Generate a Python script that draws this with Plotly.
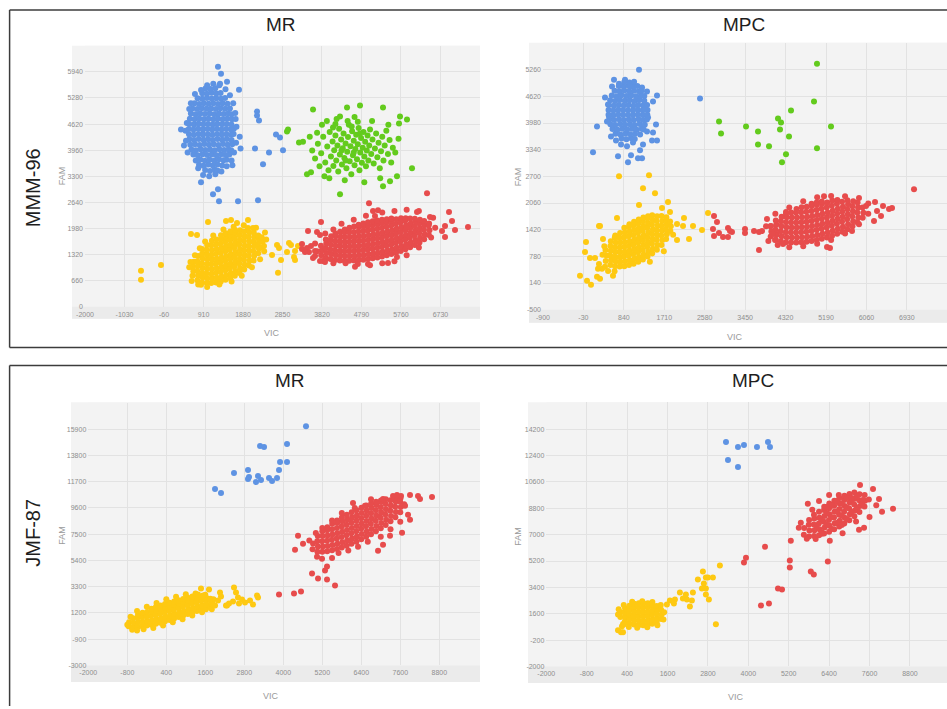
import plotly.graph_objects as go

# ---------------- tick values ----------------
mr96_vic_ticks = [-2000, -1030, -60, 910, 1880, 2850, 3820, 4790, 5760, 6730]
mr96_fam_ticks = [0, 660, 1320, 1980, 2640, 3300, 3960, 4620, 5280, 5940]
mpc96_vic_ticks = [-900, -30, 840, 1710, 2580, 3450, 4320, 5190, 6060, 6930]
mpc96_fam_ticks = [-500, 140, 780, 1420, 2060, 2700, 3340, 3980, 4620, 5260]
mr87_vic_ticks = [-2000, -800, 400, 1600, 2800, 4000, 5200, 6400, 7600, 8800]
mr87_fam_ticks = [-3000, -900, 1200, 3300, 5400, 7500, 9600, 11700, 13800, 15900]
mpc87_vic_ticks = [-2000, -800, 400, 1600, 2800, 4000, 5200, 6400, 7600, 8800]
mpc87_fam_ticks = [-2000, -200, 1600, 3400, 5200, 7000, 8800, 10600, 12400, 14200]

# ---------------- MMM-96, MR ----------------
mr96_blue = [
(950,3460),(1070,3430),(1185,3470),(1260,3440),
(800,3590),(910,3565),(1030,3600),(1140,3570),(1255,3595),(1370,3575),
(720,3700),(830,3725),(945,3695),(1060,3720),(1175,3700),(1290,3730),(1400,3705),(1480,3720),
(660,3850),(770,3830),(885,3855),(1000,3835),(1115,3850),(1230,3830),(1345,3855),(1455,3835),(1545,3850),
(615,3975),(725,3960),(840,3985),(955,3965),(1070,3980),(1185,3960),(1300,3985),(1415,3965),(1525,3980),(1590,3960),
(585,4095),(700,4110),(815,4090),(930,4115),(1045,4095),(1160,4110),(1275,4090),(1390,4115),(1505,4095),(1615,4110),
(565,4235),(680,4220),(795,4240),(910,4225),(1025,4235),(1140,4220),(1255,4245),(1370,4225),(1485,4240),(1600,4220),
(555,4365),(670,4350),(785,4370),(900,4355),(1015,4365),(1130,4350),(1245,4370),(1360,4355),(1475,4365),(1590,4350),(1650,4370),
(550,4495),(665,4480),(780,4500),(895,4485),(1010,4495),(1125,4480),(1240,4500),(1355,4485),(1470,4495),(1585,4480),(1655,4500),
(560,4625),(675,4610),(790,4630),(905,4615),(1020,4625),(1135,4610),(1250,4630),(1365,4615),(1480,4625),(1595,4610),
(575,4755),(690,4740),(805,4760),(920,4745),(1035,4755),(1150,4740),(1265,4760),(1380,4745),(1495,4755),(1610,4740),
(600,4885),(715,4870),(830,4890),(945,4875),(1060,4885),(1175,4870),(1290,4890),(1405,4875),(1520,4885),(1600,4870),
(640,5015),(755,5000),(870,5020),(985,5005),(1100,5015),(1215,5000),(1330,5020),(1445,5005),(1560,5015),
(690,5145),(805,5130),(920,5150),(1035,5135),(1150,5145),(1265,5130),(1380,5150),(1500,5135),
(765,5275),(880,5260),(995,5280),(1110,5265),(1225,5275),(1340,5260),(1440,5280),
(880,5400),(995,5390),(1110,5410),(1225,5395),(1330,5405),
(960,5520),(1080,5505),(1200,5525),
(480,4200),(500,4650),(520,3900),(600,5150),(700,5380),(780,3500),(900,3330),(1050,3300),(1200,3350),
(1350,3420),(1480,3550),(1600,3700),(1660,3900),(1710,4150),(1720,4550),(1690,4900),(1640,5150),(1560,5350),
(1450,5500),(1300,5600),(1150,5640),(1000,5600),(850,5480),(1620,3580),(1700,4750),(560,5000),(470,4450),
(1266,6071),(1340,5894),(1488,5693),(1316,5643),(1782,5491),(358,4484),(431,4081),(2224,4937),(2224,4836),
(2273,4711),(2691,4358),(2789,4282),(2175,4005),(2519,3904),(2863,3955),(2372,3602),(849,3149),(1266,2972),
(1144,2846),(1291,2670),(1758,2670),(2249,2695),(1800,4300),(1820,4000),
]
mr96_green = [
(3600,4988),(4435,5038),(4754,5088),(5319,5038),(5736,4811),(5908,4736),(5712,4635),(2961,4433),(2986,4480),
(3256,4156),(3354,4170),(6031,3501),(5662,3300),(5491,3174),(5319,3048),(4263,2846),(3452,3350),(3550,3401),
(4263,4811),(4091,4534),
(3720,4120),(3800,3880),(3850,4300),(3900,3650),(3950,4050),(3980,3450),(4010,4420),(4040,3800),(4080,4180),
(4100,3560),(4120,3960),(4150,4330),(4170,3700),(4200,4080),(4220,3420),(4240,4500),(4260,3850),(4290,4230),
(4310,3600),(4330,4010),(4350,4380),(4370,3760),(4400,4130),(4420,3500),(4440,3920),(4460,4290),(4480,4600),
(4500,3680),(4520,4060),(4540,3350),(4560,4440),(4580,3830),(4600,4200),(4620,3580),(4640,3990),(4660,4350),
(4680,3730),(4700,4110),(4720,4520),(4740,3450),(4760,3900),(4780,4270),(4800,3640),(4820,4020),(4840,4420),
(4860,3800),(4880,4170),(4900,3550),(4920,3950),(4940,4330),(4960,3700),(4980,4080),(5000,4480),(5030,3860),
(5060,4230),(5090,3620),(5120,4000),(5150,4380),(5180,3780),(5210,4150),(5240,3500),(5270,3930),(5300,4300),
(5330,3700),(5360,4080),(5400,4450),(5440,3860),(5480,4220),(5520,3650),(5560,4020),(3650,3750),(3700,4400),
(3760,3550),(3820,4600),(3880,3300),(3940,4700),(4000,3250),(4180,4750),(4380,3200),(4620,4800),(4860,3150),
(5050,4700),(5250,3250),(5450,4600),(5620,3900),(5700,4250),(3580,3950),(3520,4300),(4150,4620),(4700,4680),
(4450,4700),(4550,4560),(4300,3950),(4600,3900),(4750,4380),(4400,3700),
]
mr96_yellow = [
(640,780),(660,900),(650,1020),(670,1140),
(760,670),(775,790),(755,910),(770,1030),(760,1150),(780,1280),
(870,620),(890,740),(875,860),(885,980),(870,1100),(890,1220),(880,1340),(870,1460),
(990,600),(1005,720),(985,840),(1000,960),(990,1080),(1010,1200),(995,1320),(985,1440),(1000,1560),
(1100,600),(1120,715),(1105,835),(1115,955),(1100,1075),(1120,1195),(1105,1315),(1115,1435),(1100,1555),(1115,1670),
(1220,615),(1235,735),(1215,855),(1230,975),(1220,1095),(1235,1215),(1215,1335),(1230,1455),(1220,1575),(1230,1700),
(1335,640),(1350,760),(1330,880),(1345,1000),(1335,1120),(1350,1240),(1330,1360),(1345,1480),(1335,1600),(1350,1720),(1340,1810),
(1450,680),(1465,800),(1445,920),(1460,1040),(1450,1160),(1465,1280),(1445,1400),(1460,1520),(1450,1640),(1465,1760),(1455,1860),
(1565,725),(1580,845),(1560,965),(1575,1085),(1565,1205),(1580,1325),(1560,1445),(1575,1565),(1565,1685),(1580,1805),(1570,1900),
(1680,785),(1695,905),(1675,1025),(1690,1145),(1680,1265),(1695,1385),(1675,1505),(1690,1625),(1680,1745),(1695,1865),(1685,1940),
(1795,855),(1810,975),(1790,1095),(1805,1215),(1795,1335),(1810,1455),(1790,1575),(1805,1695),(1795,1815),(1810,1935),
(1910,940),(1925,1060),(1905,1180),(1920,1300),(1910,1420),(1925,1540),(1905,1660),(1920,1780),(1910,1900),
(2025,1040),(2040,1160),(2020,1280),(2035,1400),(2025,1520),(2040,1640),(2020,1760),(2035,1880),
(2140,1170),(2155,1290),(2135,1410),(2150,1530),(2140,1650),(2155,1770),(2145,1880),
(2255,1350),(2270,1470),(2250,1590),(2265,1710),(2255,1800),
(2345,1500),(2360,1640),(2340,1760),
(560,1000),(590,1130),(700,1300),(820,1480),(950,1650),(1150,1800),(1400,1950),(1650,2020),(1900,2060),
(2200,2000),(2420,1880),(2450,1700),(2400,1400),(2300,1200),(2100,1000),(1850,780),(1600,640),(1300,560),
(1000,500),(780,560),(620,650),
(-625,907),(-625,680),(-134,1058),(849,554),(1021,2141),(1463,2166),(1586,2192),(1733,2116),(2003,2192),
(2003,1990),(2126,1990),(603,1839),(751,1814),(2396,1537),(2593,1310),(2716,1562),(2765,1486),(2814,1184),
(2961,1385),(3010,1612),(3059,1562),(3158,1411),(3133,1260),(3158,1184),(2740,856),(3231,1537),
]
mr96_red = [
(3800,1300),(3815,1420),(3795,1545),
(3915,1240),(3930,1360),(3910,1480),(3925,1600),(3915,1700),
(4030,1205),(4045,1325),(4025,1445),(4040,1565),(4030,1685),(4045,1780),
(4145,1180),(4160,1300),(4140,1420),(4155,1540),(4145,1660),(4160,1780),(4150,1850),
(4260,1170),(4275,1290),(4255,1410),(4270,1530),(4260,1650),(4275,1770),(4265,1895),
(4375,1165),(4390,1285),(4370,1405),(4385,1525),(4375,1645),(4390,1765),(4370,1885),(4380,1950),
(4490,1165),(4505,1285),(4485,1405),(4500,1525),(4490,1645),(4505,1765),(4485,1885),(4495,1995),
(4605,1170),(4620,1290),(4600,1410),(4615,1530),(4605,1650),(4620,1770),(4600,1890),(4610,2030),
(4720,1180),(4735,1300),(4715,1420),(4730,1540),(4720,1660),(4735,1780),(4715,1900),(4725,2020),(4720,2075),
(4835,1190),(4850,1310),(4830,1430),(4845,1550),(4835,1670),(4850,1790),(4830,1910),(4840,2030),(4835,2105),
(4950,1205),(4965,1325),(4945,1445),(4960,1565),(4950,1685),(4965,1805),(4945,1925),(4955,2045),(4950,2135),
(5065,1225),(5080,1345),(5060,1465),(5075,1585),(5065,1705),(5080,1825),(5060,1945),(5070,2065),(5065,2160),
(5180,1245),(5195,1365),(5175,1485),(5190,1605),(5180,1725),(5195,1845),(5175,1965),(5185,2085),(5180,2180),
(5295,1270),(5310,1390),(5290,1510),(5305,1630),(5295,1750),(5310,1870),(5290,1990),(5300,2110),(5295,2200),
(5410,1300),(5425,1420),(5405,1540),(5420,1660),(5410,1780),(5425,1900),(5405,2020),(5415,2140),(5410,2215),
(5525,1335),(5540,1455),(5520,1575),(5535,1695),(5525,1815),(5540,1935),(5520,2055),(5530,2175),(5525,2230),
(5640,1370),(5655,1490),(5635,1610),(5650,1730),(5640,1850),(5655,1970),(5635,2090),(5645,2210),
(5755,1410),(5770,1530),(5750,1650),(5765,1770),(5755,1890),(5770,2010),(5750,2130),(5760,2240),
(5870,1455),(5885,1575),(5865,1695),(5880,1815),(5870,1935),(5885,2055),(5865,2175),(5875,2240),
(5985,1505),(6000,1625),(5980,1745),(5995,1865),(5985,1985),(6000,2105),(5985,2230),
(6100,1560),(6115,1680),(6095,1800),(6110,1920),(6100,2040),(6115,2160),(6100,2225),
(6215,1625),(6230,1745),(6210,1865),(6225,1985),(6215,2105),(6225,2200),
(6330,1705),(6345,1825),(6325,1945),(6340,2065),(6330,2165),
(6445,1815),(6460,1935),(6440,2055),(6450,2105),
(4300,2100),(4600,2200),(4900,2300),(5300,2380),(5600,2420),(5900,2450),(6200,2420),(6550,2250),(6600,2000),
(6500,1750),(6200,1500),(5900,1300),(5600,1150),(5300,1100),(5000,1050),(4700,1080),(4400,1100),(4100,1100),
(3900,1200),(3700,1400),(3650,1600),(3900,1850),(4100,1950),
(3330,1461),(3452,1486),(3501,1385),(3550,1537),(3698,1889),(3772,1814),(3796,2141),(3649,1285),(3845,1159),
(3600,1234),(3330,1587),(3403,1385),(3477,1914),(3649,1411),(3772,1159),(3894,1133),
(4975,2620),(5073,2418),(5196,2443),(5122,2292),(6400,2872),(6940,2393),(7014,2166),(7087,1940),(7406,2015),
(6842,2040),(6768,1914),(6842,1763),(6154,2393),(6473,2267),(4631,1008),(4950,1083),(5441,1108),(5662,1260),
]

# ---------------- MMM-96, MPC ----------------
mpc96_blue = [
(790,3610),(895,3590),(1000,3615),(1075,3595),
(660,3720),(765,3705),(870,3725),(975,3710),(1080,3725),(1190,3705),
(595,3835),(700,3820),(805,3840),(910,3825),(1015,3840),(1120,3820),(1225,3840),(1265,3825),
(550,3950),(655,3935),(760,3955),(865,3940),(970,3950),(1075,3935),(1180,3955),(1290,3940),
(525,4065),(630,4050),(735,4070),(840,4055),(945,4065),(1050,4050),(1155,4070),(1260,4055),(1335,4065),
(510,4180),(615,4165),(720,4185),(825,4170),(930,4180),(1035,4165),(1140,4185),(1245,4170),(1345,4180),
(510,4295),(615,4280),(720,4300),(825,4285),(930,4295),(1035,4280),(1140,4300),(1245,4285),(1350,4295),
(520,4410),(625,4395),(730,4415),(835,4400),(940,4410),(1045,4395),(1150,4415),(1255,4400),(1340,4410),
(545,4525),(650,4510),(755,4530),(860,4515),(965,4525),(1070,4510),(1175,4530),(1280,4515),
(580,4640),(685,4625),(790,4645),(895,4630),(1000,4640),(1105,4625),(1210,4645),(1280,4630),
(640,4755),(745,4740),(850,4760),(955,4745),(1060,4755),(1165,4740),(1225,4760),
(730,4870),(835,4855),(940,4875),(1045,4860),(1130,4870),
(850,4965),(960,4950),(1060,4970),
(628,5021),(865,5021),(585,4854),(434,4591),(1553,4638),(1467,4495),(1295,4304),(1532,3945),(262,3898),
(1446,3563),(1553,3563),(1467,3754),(1252,3467),(1188,3324),(176,3276),(714,3181),(929,3037),(994,3205),
(1144,3133),(1231,3133),(779,3467),(563,3659),(671,3563),(908,3420),(1037,3515),(1166,5260),(2479,4567),
(1338,4734),(1231,4830),(972,4854),(736,4925),(499,4423),(520,4137),(477,4017),(1360,4113),(1338,3778),
]
mpc96_green = [
(4996,5403),(4932,4495),(4437,4280),(4157,4089),(4222,3993),(4200,3826),(4394,3659),(5298,3898),(4996,3372),
(4329,3228),(4243,3037),(3964,3420),(3727,3467),(3727,3778),(3469,3898),(2931,3730),(2888,4017),
]
mpc96_yellow = [
(450,670),(465,800),(445,930),
(550,570),(565,685),(545,800),(560,915),(550,1030),(560,1140),
(650,540),(665,655),(645,770),(660,885),(650,1000),(665,1115),(645,1230),(655,1280),
(750,535),(765,650),(745,765),(760,880),(750,995),(765,1110),(745,1225),(760,1340),
(850,545),(865,660),(845,775),(860,890),(850,1005),(865,1120),(845,1235),(860,1350),(850,1465),
(950,570),(965,685),(945,800),(960,915),(950,1030),(965,1145),(945,1260),(960,1375),(950,1490),(960,1550),
(1050,605),(1065,720),(1045,835),(1060,950),(1050,1065),(1065,1180),(1045,1295),(1060,1410),(1050,1525),(1060,1610),
(1150,650),(1165,765),(1145,880),(1160,995),(1150,1110),(1165,1225),(1145,1340),(1160,1455),(1150,1570),(1160,1665),
(1250,705),(1265,820),(1245,935),(1260,1050),(1250,1165),(1265,1280),(1245,1395),(1260,1510),(1250,1625),(1260,1710),
(1350,775),(1365,890),(1345,1005),(1360,1120),(1350,1235),(1365,1350),(1345,1465),(1360,1580),(1350,1695),(1360,1745),
(1450,850),(1465,965),(1445,1080),(1460,1195),(1450,1310),(1465,1425),(1445,1540),(1460,1655),(1450,1765),
(1550,940),(1565,1055),(1545,1170),(1560,1285),(1550,1400),(1565,1515),(1545,1630),(1555,1745),
(1650,1055),(1665,1170),(1645,1285),(1660,1400),(1650,1515),(1665,1630),(1650,1750),
(1750,1195),(1765,1310),(1745,1425),(1760,1540),(1750,1655),(1755,1720),
(1840,1390),(1850,1505),(1835,1615),
(-104,313),(47,193),(133,98),(262,289),(4,886),(25,1125),(111,743),(219,743),(305,599),(370,480),(434,528),
(606,313),(327,241),(305,1508),(692,1699),(284,480),(380,820),(420,1020),(500,430),(640,420),
(736,2703),(1381,2727),(1252,2416),(1510,2296),(1166,2010),(1790,2082),(1661,1938),(1833,1842),(1984,1555),
(2134,1699),(2113,1508),(2328,1508),(2522,1412),(2651,1818),(1984,1173),(2242,1197),(327,1508),(391,1197),
(1900,1300),(1700,900),(1400,650),
]
mpc96_red = [
(4000,1255),(4015,1375),(3995,1500),
(4110,1180),(4125,1300),(4105,1420),(4120,1540),(4110,1640),
(4220,1140),(4235,1260),(4215,1380),(4230,1500),(4220,1620),(4235,1730),
(4330,1120),(4345,1240),(4325,1360),(4340,1480),(4330,1600),(4345,1720),(4330,1800),
(4440,1110),(4455,1230),(4435,1350),(4450,1470),(4440,1590),(4455,1710),(4440,1830),
(4550,1110),(4565,1230),(4545,1350),(4560,1470),(4550,1590),(4565,1710),(4545,1830),(4555,1915),
(4660,1120),(4675,1240),(4655,1360),(4670,1480),(4660,1600),(4675,1720),(4655,1840),(4665,1960),
(4770,1130),(4785,1250),(4765,1370),(4780,1490),(4770,1610),(4785,1730),(4765,1850),(4775,1970),
(4880,1150),(4895,1270),(4875,1390),(4890,1510),(4880,1630),(4895,1750),(4875,1870),(4885,1990),(4880,2040),
(4990,1170),(5005,1290),(4985,1410),(5000,1530),(4990,1650),(5005,1770),(4985,1890),(4995,2010),(4990,2070),
(5100,1200),(5115,1320),(5095,1440),(5110,1560),(5100,1680),(5115,1800),(5095,1920),(5105,2040),(5100,2095),
(5210,1235),(5225,1355),(5205,1475),(5220,1595),(5210,1715),(5225,1835),(5205,1955),(5215,2075),
(5320,1275),(5335,1395),(5315,1515),(5330,1635),(5320,1755),(5335,1875),(5315,1995),(5325,2120),
(5430,1320),(5445,1440),(5425,1560),(5440,1680),(5430,1800),(5445,1920),(5425,2040),(5435,2135),
(5540,1370),(5555,1490),(5535,1610),(5550,1730),(5540,1850),(5555,1970),(5535,2090),
(5650,1430),(5665,1550),(5645,1670),(5660,1790),(5650,1910),(5665,2030),(5650,2125),
(5760,1500),(5775,1620),(5755,1740),(5770,1860),(5760,1980),(5775,2100),
(5870,1590),(5885,1710),(5865,1830),(5880,1950),(5870,2070),
(5980,1705),(5995,1825),(5975,1950),
(4400,1950),(4700,2100),(5000,2200),(5300,2230),(5600,2220),(5900,2180),(6100,2050),(6100,1800),(5900,1550),
(5600,1330),(5300,1170),(5000,1080),(4700,1020),(4400,1000),(4150,1050),(3950,1150),(3900,1500),(4100,1800),
(2780,1747),(2844,1603),(2758,1436),(2887,1340),(2780,1269),(2974,1245),(3081,1245),(3124,1388),(3167,1364),
(3081,1460),(3447,1436),(3447,1340),(3641,1388),(3748,1364),(3813,1388),(3748,934),(3920,1675),(4007,1508),
(4050,1316),(4093,1173),(4265,1077),(4329,1842),(5147,2225),(5212,1006),(5276,982),(5750,1388),(6245,2082),
(6288,1866),(6223,1627),(6374,1747),(6417,1986),(6546,1914),(6611,1938),(7084,2392),(6051,1986),
]

# ---------------- JMF-87, MR ----------------
mr87_blue = [
(4699,16138),(3285,14545),(3408,14466),(4115,14704),(3900,13271),(4115,13271),(3869,12634),(2483,12395),
(2914,12634),(2914,11917),(2945,12077),(3222,12156),(3160,11678),(3314,11837),(3561,11997),(3654,11758),
(3807,11997),(1899,11120),(2084,10801),
]
mr87_yellow = [
(-760,130),(-745,460),
(-620,60),(-605,420),(-625,780),
(-480,90),(-465,450),(-485,810),(-470,1050),
(-340,140),(-325,500),(-345,860),(-330,1210),
(-200,190),(-185,550),(-205,910),(-190,1270),
(-60,250),(-45,610),(-65,970),(-50,1330),(-60,1540),
(80,330),(95,690),(75,1050),(90,1410),(80,1680),
(220,420),(235,780),(215,1140),(230,1500),(220,1800),
(360,530),(375,890),(355,1250),(370,1610),(360,1910),
(500,640),(515,1000),(495,1360),(510,1720),(500,2020),
(640,760),(655,1120),(635,1480),(650,1840),(640,2110),
(780,880),(795,1240),(775,1600),(790,1960),(780,2220),
(920,1000),(935,1360),(915,1720),(930,2080),(920,2320),
(1060,1120),(1075,1480),(1055,1840),(1070,2200),(1060,2420),
(1200,1240),(1215,1600),(1195,1960),(1210,2320),(1200,2510),
(1340,1350),(1355,1710),(1335,2070),(1350,2440),
(1480,1430),(1495,1790),(1475,2150),(1490,2460),
(1620,1490),(1635,1850),(1615,2210),(1630,2420),
(1760,1650),(1775,2000),(1755,2330),
(-800,250),(-650,-150),(-500,-200),(-300,-100),(0,0),(300,200),(600,450),(900,700),(1200,1000),(1500,1250),
(1800,1500),(1900,1800),(1850,2300),(1600,2650),(1300,2750),(1000,2700),(700,2500),(400,2300),(100,2000),
(-200,1700),(-500,1350),(-700,900),
(1468,3156),(1714,3077),(2053,2837),(2083,2519),(2237,1802),(2483,3236),(2545,2837),(2606,2439),(2453,2121),
(2730,2280),(2822,2041),(2976,2200),(3068,1882),(3191,2598),(3222,2439),(1991,2200),(1837,1882),(1745,2280),
(2268,1802),(2330,1960),(2637,1960),(1376,2678),(1530,2598),
]
mr87_red = [
(4900,6300),(4915,6750),
(5050,6100),(5065,6520),(5045,6940),(5060,7350),
(5200,6090),(5215,6510),(5195,6930),(5210,7350),(5200,7730),
(5350,6130),(5365,6550),(5345,6970),(5360,7390),(5350,7810),(5355,8050),
(5500,6210),(5515,6630),(5495,7050),(5510,7470),(5500,7890),(5505,8330),
(5650,6310),(5665,6730),(5645,7150),(5660,7570),(5650,7990),(5665,8410),(5655,8600),
(5800,6440),(5815,6860),(5795,7280),(5810,7700),(5800,8120),(5815,8540),(5805,8830),
(5950,6580),(5965,7000),(5945,7420),(5960,7840),(5950,8260),(5965,8680),(5955,9050),
(6100,6740),(6115,7160),(6095,7580),(6110,8000),(6100,8420),(6115,8840),(6105,9260),
(6250,6900),(6265,7320),(6245,7740),(6260,8160),(6250,8580),(6265,9000),(6255,9420),
(6400,7090),(6415,7510),(6395,7930),(6410,8350),(6400,8770),(6415,9190),(6405,9610),
(6550,7290),(6565,7710),(6545,8130),(6560,8550),(6550,8970),(6565,9390),(6555,9800),
(6700,7500),(6715,7920),(6695,8340),(6710,8760),(6700,9180),(6715,9600),(6705,9950),
(6850,7730),(6865,8150),(6845,8570),(6860,8990),(6850,9410),(6865,9830),(6855,10090),
(7000,7970),(7015,8390),(6995,8810),(7010,9230),(7000,9650),(7015,10070),(7005,10200),
(7150,8240),(7165,8660),(7145,9080),(7160,9500),(7150,9920),(7155,10300),
(7300,8530),(7315,8950),(7295,9370),(7310,9790),(7300,10210),
(7450,8860),(7465,9280),(7445,9700),(7460,10120),(7450,10400),
(7600,9260),(7615,9680),(7595,10100),(7605,10370),(7720,9900),
(5500,5600),(5700,6000),(6000,6200),(6300,6500),(6600,6900),(7000,7300),(7300,7900),(7600,8500),(5200,8000),
(5500,8600),(5800,9200),(6200,9600),(6700,10300),(4800,7000),(5000,7600),
(3868,2678),(4330,2758),(4545,2917),(5592,3395),(5346,3873),(5069,3952),(4884,4350),(5284,4589),(5346,4907),
(5038,5704),(5192,5545),(4361,6261),(4453,7376),(4607,6739),(7654,7615),(6915,6182),(7069,6659),(7284,7376),
(7900,8650),(7838,9048),(7746,9765),(7900,10641),(8146,10562),(8207,10323),(8576,10482),(6514,9765),
(6145,10004),(7069,10323),(7377,10562),(7500,10641),(7623,10562),
]

# ---------------- JMF-87, MPC ----------------
mpc87_blue = [
(3337,13316),(3693,12976),(3871,13112),(4257,12976),(4584,13316),(4643,12976),(3396,12092),(3693,11616),
]
mpc87_yellow = [
(200,1380),(210,1700),
(335,1080),(345,1380),(330,1680),(340,1980),
(470,940),(480,1240),(465,1540),(475,1840),(470,2140),
(605,860),(615,1160),(600,1460),(610,1760),(605,2060),(612,2290),
(740,820),(750,1120),(735,1420),(745,1720),(740,2020),(748,2320),
(875,820),(885,1120),(870,1420),(880,1720),(875,2020),(882,2320),
(1010,840),(1020,1140),(1005,1440),(1015,1740),(1010,2040),(1016,2310),
(1145,910),(1155,1210),(1140,1510),(1150,1810),(1145,2110),(1152,2240),
(1280,1030),(1290,1330),(1275,1630),(1285,1930),(1280,2130),
(1415,1240),(1425,1540),(1410,1880),
(130,1550),(280,900),(450,700),(700,650),(1000,680),(1300,820),(1480,1200),(1500,1700),(1400,2200),
(1150,2400),(850,2450),(550,2420),(300,2200),(150,1900),
(130,467),(219,331),(278,331),(248,739),(308,875),(1582,2235),(1671,2507),(1820,2575),(1790,2303),
(1968,3051),(2057,2643),(2176,2575),(2146,2915),(2265,2099),(2354,3051),(2324,2507),(2502,3935),(2621,3323),
(2680,3663),(2651,4479),(2740,4071),(2799,4071),(2740,3323),(2740,2915),(2829,2575),(2948,4071),(3156,4887),
(3037,875),
]
mpc87_red = [
(5650,7000),(5660,7450),
(5800,6880),(5815,7280),(5795,7680),(5805,8000),
(5950,6900),(5965,7300),(5945,7700),(5960,8100),(5950,8350),
(6100,6960),(6115,7360),(6095,7760),(6110,8160),(6100,8560),
(6250,7080),(6265,7480),(6245,7880),(6260,8280),(6250,8680),(6255,8900),
(6400,7200),(6415,7600),(6395,8000),(6410,8400),(6400,8800),(6405,9120),
(6550,7370),(6565,7770),(6545,8170),(6560,8570),(6550,8970),(6555,9320),
(6700,7550),(6715,7950),(6695,8350),(6710,8750),(6700,9150),(6705,9500),
(6850,7760),(6865,8160),(6845,8560),(6860,8960),(6850,9360),(6855,9650),
(7000,7990),(7015,8390),(6995,8790),(7010,9190),(7000,9600),(7005,9780),
(7150,8250),(7165,8650),(7145,9050),(7160,9450),(7150,9870),
(7300,8550),(7315,8950),(7295,9350),(7305,9750),
(7450,8920),(7465,9320),(7455,9700),
(7580,9400),
(6025,7560),(6175,7160),(6175,7960),(6325,7680),(6325,8480),(6475,7380),(6475,8180),(6475,8980),(6625,7800),
(6625,8600),(6775,8300),(6775,9100),(6925,8060),(6925,8860),(7075,8560),(7075,9360),(7225,8800),(7225,9600),
(6325,8880),(6625,9300),(6775,7650),(6925,9500),(7375,9150),
(5499,7470),(5559,7810),(5767,9102),(5737,6722),(8298,8761),(7971,8557),(7882,9441),(7704,10121),(7318,10393),
(7437,7470),(7288,7334),(6420,6586),(6183,7062),(6688,9713),(7074,9509),(7400,9373),(5900,8700),(6100,9300),
(6400,9700),(7600,8200),(7800,9000),(7200,7900),(6800,7100),(6000,6700),
(4495,6178),(3931,5430),(3871,5090),(5262,6586),(5232,5226),(5232,4750),(5856,4478),(5945,4274),(6361,5158),
(4881,3323),(5000,3255),(4376,2167),(4613,2303),
]

# ---------------- styling / layout ----------------
W, H = 947, 709
# The captured picture places paper x at 9 + 938*frac, so horizontal pixel
# targets are converted with that mapping.
X0, XW = 9.0, 938.0
def fx(x):
    return min(max((x - X0) / XW, 0.0), 1.0)
def fy(y):
    return 1 - y / H

COLORS = {"blue": "#5e93e3", "green": "#63cb1d", "yellow": "#fec912", "red": "#e74c4c"}

panels = [
    dict(dx=(85, 480), dy=(46, 308), xr=(-2000, 7701), yr=(0, 6600),
         xt=mr96_vic_ticks, yt=mr96_fam_ticks, box=(72, 46, 480, 320),
         series=[("yellow", mr96_yellow), ("red", mr96_red), ("green", mr96_green), ("blue", mr96_blue)],
         fam=(62, 177), vic=(272, 334)),
    dict(dx=(543, 947), dy=(43, 311), xr=(-900, 7794), yr=(-500, 5905),
         xt=mpc96_vic_ticks, yt=mpc96_fam_ticks, box=(529, 43, 947, 324),
         series=[("yellow", mpc96_yellow), ("red", mpc96_red), ("green", mpc96_green), ("blue", mpc96_blue)],
         fam=(518, 178), vic=(735, 338)),
    dict(dx=(88.3, 480), dy=(404.3, 668.3), xr=(-2000, 10053), yr=(-3000, 18025),
         xt=mr87_vic_ticks, yt=mr87_fam_ticks, box=(71, 404, 480, 685),
         series=[("yellow", mr87_yellow), ("red", mr87_red), ("blue", mr87_blue)],
         fam=(62, 538), vic=(271, 699)),
    dict(dx=(546.3, 947), dy=(404, 669.3), xr=(-2000, 9901), yr=(-2000, 16035),
         xt=mpc87_vic_ticks, yt=mpc87_fam_ticks, box=(528, 404, 947, 686),
         series=[("yellow", mpc87_yellow), ("red", mpc87_red), ("blue", mpc87_blue)],
         fam=(518, 539), vic=(736, 700)),
]

fig = go.Figure()
shapes = []
annotations = []
layout_axes = {}
tickfont = dict(family="Liberation Sans, Arial, sans-serif", size=7, color="#8e8e8e")

for i, p in enumerate(panels, start=1):
    sx = "" if i == 1 else str(i)
    xa, ya = "x" + sx, "y" + sx
    for cname, pts in p["series"]:
        fig.add_trace(go.Scatter(
            x=[v for v, _ in pts], y=[f for _, f in pts], mode="markers",
            marker=dict(size=6, color=COLORS[cname], line=dict(width=0)),
            xaxis=xa, yaxis=ya, showlegend=False, hoverinfo="skip", cliponaxis=True))
    layout_axes["xaxis" + sx] = dict(
        domain=[fx(p["dx"][0]), fx(p["dx"][1])], range=list(p["xr"]), anchor=ya,
        tickmode="array", tickvals=p["xt"], ticktext=[str(v) for v in p["xt"]],
        showgrid=True, gridcolor="#e2e2e2", gridwidth=1, zeroline=False, showline=False,
        ticks="", ticklabelstandoff=2, tickfont=tickfont, fixedrange=True)
    layout_axes["yaxis" + sx] = dict(
        domain=[fy(p["dy"][1]), fy(p["dy"][0])], range=list(p["yr"]), anchor=xa,
        tickmode="array", tickvals=p["yt"], ticktext=[str(v) for v in p["yt"]],
        showgrid=True, gridcolor="#e2e2e2", gridwidth=1, zeroline=False, showline=False,
        ticks="", ticklabelstandoff=1, tickfont=tickfont, fixedrange=True)
    bx0, by0, bx1, by1 = p["box"]
    shapes.append(dict(type="rect", xref="paper", yref="paper", layer="below",
                       x0=fx(bx0), x1=fx(bx1), y0=fy(by1), y1=fy(by0),
                       fillcolor="#f3f3f3", line=dict(width=0)))
    shapes.append(dict(type="rect", xref="paper", yref="paper", layer="below",
                       x0=fx(bx0), x1=fx(bx1), y0=fy(by1), y1=fy(p["dy"][1]),
                       fillcolor="#ebebeb", line=dict(width=0)))
    annotations.append(dict(text="FAM", x=fx(p["fam"][0]), y=fy(p["fam"][1]), xref="paper", yref="paper",
                            showarrow=False, textangle=-90, xanchor="center", yanchor="middle",
                            font=dict(family="Liberation Sans, Arial, sans-serif", size=9, color="#9a9a9a")))
    annotations.append(dict(text="VIC", x=fx(p["vic"][0]), y=fy(p["vic"][1]), xref="paper", yref="paper",
                            showarrow=False, xanchor="center", yanchor="middle",
                            font=dict(family="Liberation Sans, Arial, sans-serif", size=9, color="#9a9a9a")))

# panel titles and row labels
title_font = dict(family="Liberation Sans, Arial, sans-serif", size=19, color="#1e1e1e")
for txt, x, y in [("MR", 281, 25), ("MPC", 744, 25), ("MR", 290, 382), ("MPC", 753, 382)]:
    annotations.append(dict(text=txt, x=fx(x), y=fy(y), xref="paper", yref="paper", showarrow=False,
                            xanchor="center", yanchor="middle", font=title_font))
for txt, x, y in [("MMM-96", 33, 189), ("JMF-87", 33, 535)]:
    annotations.append(dict(text=txt, x=fx(x), y=fy(y), xref="paper", yref="paper", showarrow=False,
                            textangle=-90, xanchor="center", yanchor="middle",
                            font=dict(family="Liberation Sans, Arial, sans-serif", size=20, color="#1e1e1e")))

# row frames
frame_line = dict(color="#3c3c3c", width=1.5)
for (x0, y0, x1, y1) in [(9.6, 10, 947, 10), (9.6, 10, 9.6, 349), (9.6, 349, 947, 349),
                         (9.6, 367, 947, 367), (9.6, 367, 9.6, 709)]:
    shapes.append(dict(type="line", xref="paper", yref="paper", layer="above",
                       x0=fx(x0), x1=fx(x1), y0=fy(y0), y1=fy(y1), line=frame_line))

fig.update_layout(
    width=W, height=H, autosize=False, margin=dict(l=0, r=0, t=0, b=0),
    paper_bgcolor="white", plot_bgcolor="#f3f3f3",
    shapes=shapes, annotations=annotations, **layout_axes)

fig.write_html(
    "out.html",
    config={"responsive": False, "displayModeBar": False},
    post_script="document.body.style.margin='0';document.body.style.padding='0';"
                "document.documentElement.style.overflow='hidden';",
)
